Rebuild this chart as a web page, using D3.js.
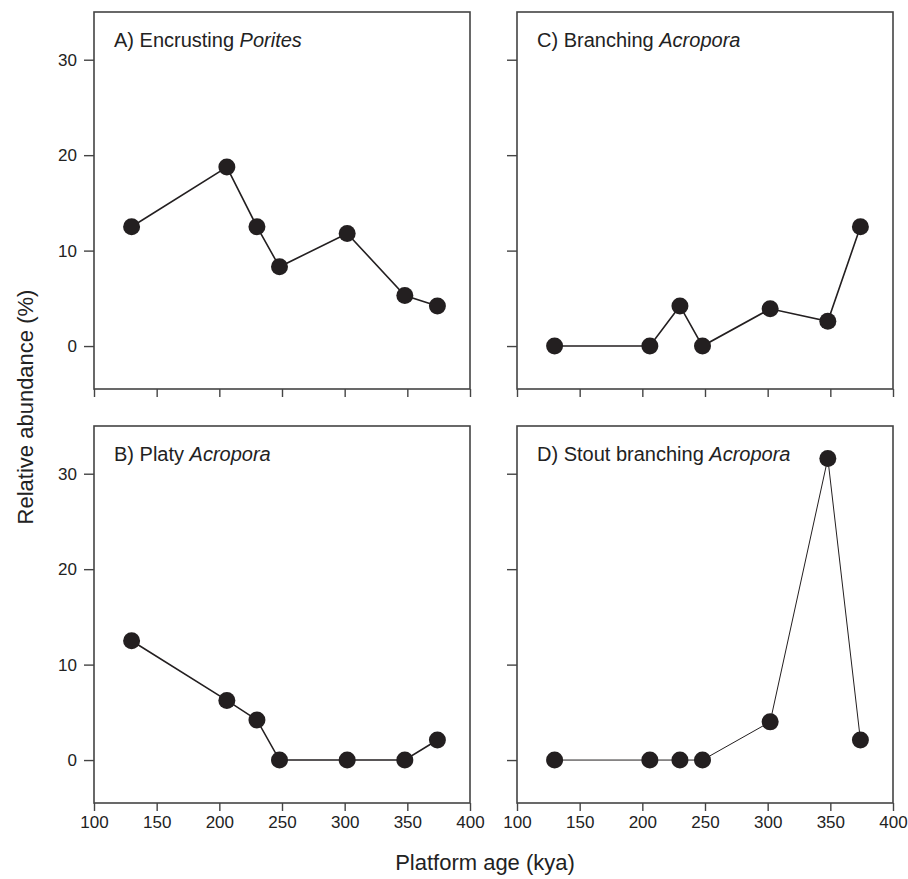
<!DOCTYPE html>
<html>
<head>
<meta charset="utf-8">
<script src="https://cdn.jsdelivr.net/npm/d3@7"></script>
<style>
  body { margin: 0; background: #fff; }
  svg { font-family: "Liberation Sans", Arial, Helvetica, sans-serif; }
  .tick text { fill: #222; }
  .tick line { stroke: #444; stroke-width: 1.4; }
</style>
</head>
<body>
<div class="container"></div>
<script>
// platform ages (kya), same for every panel
var ages = [130, 206, 230, 248, 302, 348, 374];

var encrustingPorites = [12.5, 18.75, 12.5, 8.3, 11.8, 5.3, 4.2];
var platyAcropora = [12.5, 6.25, 4.2, 0, 0, 0, 2.1];
var branchingAcropora = [0, 0, 4.2, 0, 3.9, 2.6, 12.5];
var stoutBranchingAcropora = [0, 0, 0, 0, 4.0, 31.6, 2.1];

var xTicks = [100, 150, 200, 250, 300, 350, 400];
var yTicks = [0, 10, 20, 30];

var panelLabels = ["A) Encrusting ", "B) Platy ", "C) Branching ", "D) Stout branching "];
var panelGenus = ["Porites", "Acropora", "Acropora", "Acropora"];

var width = 908;
var height = 879;

var panelW = 376;
var panelH = 377;
var lefts = [94, 517];
var tops = [12, 426];

var panels = [
  {values: encrustingPorites, col: 0, row: 0, label: panelLabels[0], genus: panelGenus[0], lw: 1.6},
  {values: platyAcropora, col: 0, row: 1, label: panelLabels[1], genus: panelGenus[1], lw: 1.6},
  {values: branchingAcropora, col: 1, row: 0, label: panelLabels[2], genus: panelGenus[2], lw: 1.6},
  {values: stoutBranchingAcropora, col: 1, row: 1, label: panelLabels[3], genus: panelGenus[3], lw: 1}
];

var svg = d3.select(".container").append("svg")
    .attr("width", width)
    .attr("height", height);

var x = d3.scaleLinear().domain([100, 400]).range([0, panelW]);
var y = d3.scaleLinear().domain([-4.5, 35]).range([panelH, 0]);

panels.forEach(function(p) {
  var g = svg.append("g")
      .attr("transform", "translate(" + lefts[p.col] + "," + tops[p.row] + ")");

  // y axis, labels only on left column
  var yAxis = d3.axisLeft(y).tickValues(yTicks).tickSize(10).tickPadding(7)
      .tickFormat(p.col == 0 ? d3.format("d") : "");
  g.append("g").call(yAxis)
    .call(function(s) { s.select(".domain").remove(); })
    .selectAll("text").style("font-size", "17px");

  // x axis, labels only on bottom row
  var xAxis = d3.axisBottom(x).tickValues(xTicks).tickSize(8).tickPadding(5)
      .tickFormat(p.row == 1 ? d3.format("d") : "");
  g.append("g").attr("transform", "translate(0," + panelH + ")").call(xAxis)
    .call(function(s) { s.select(".domain").remove(); })
    .selectAll("text").style("font-size", "17px");

  g.append("rect")
    .attr("width", panelW)
    .attr("height", panelH)
    .attr("fill", "none")
    .attr("stroke", "#444")
    .attr("stroke-width", 1.6);

  var line = d3.line()
    .x(function(d, i) { return x(ages[i]); })
    .y(function(d) { return y(d); });

  g.append("path")
    .datum(p.values)
    .attr("d", line)
    .attr("fill", "none")
    .attr("stroke", "#231f20")
    .attr("stroke-width", p.lw);

  g.selectAll("circle").data(p.values)
    .enter().append("circle")
    .attr("cx", function(d, i) { return x(ages[i]); })
    .attr("cy", function(d) { return y(d); })
    .attr("r", 8.5)
    .attr("fill", "#231f20");

  var t = g.append("text")
    .attr("x", 20)
    .attr("y", 35)
    .style("font-size", "20px")
    .attr("fill", "#222");
  t.append("tspan").text(p.label);
  t.append("tspan").style("font-style", "italic").text(p.genus);
});

svg.append("text")
  .attr("x", 485)
  .attr("y", 870)
  .attr("text-anchor", "middle")
  .style("font-size", "22px")
  .attr("fill", "#222")
  .text("Platform age (kya)");

svg.append("text")
  .attr("transform", "translate(33,407) rotate(-90)")
  .attr("text-anchor", "middle")
  .style("font-size", "22px")
  .attr("fill", "#222")
  .text("Relative abundance (%)");
</script>
</body>
</html>
